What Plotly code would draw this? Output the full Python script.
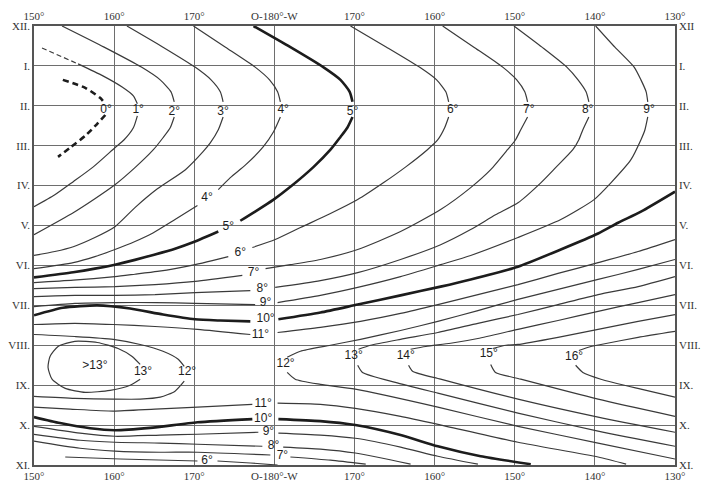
import plotly.graph_objects as go

# ---------------- axes / ticks ----------------
lon_ticks = [150, 160, 170, 180, 190, 200, 210, 220, 230]
lon_labels = ["150°", "160°", "170°", "O-180°-W", "170°", "160°", "150°", "140°", "130°"]
month_vals = list(range(12))
month_left = ["XII.", "I.", "II.", "III.", "IV.", "V.", "VI.", "VII.", "VIII.", "IX.", "X.", "XI."]
month_right = ["XII", "I.", "II.", "III.", "IV.", "V.", "VI.", "VII.", "VIII.", "IX.", "X.", "XI."]

# ---------------- isotherm segments (longitude °E-continuous, month index 0=XII) ----------------
T0_up = ([153.6, 156.4, 158.25, 158.9], [1.35, 1.55, 1.8, 1.95])
T0_lo = ([158.9, 157.9, 156.4, 154.5, 153.0], [2.23, 2.45, 2.75, 3.05, 3.28])
T1_dash = ([151.0, 155.5], [0.55, 0.95])
T1_up = ([155.5, 158.6, 161.0, 162.4, 162.9], [0.95, 1.25, 1.53, 1.75, 1.95])
T1_lo = ([162.9, 162.4, 161.25, 160.1, 157.4, 154.9, 152.6, 150], [2.25, 2.55, 2.85, 3.05, 3.53, 3.9, 4.23, 4.53])
T2_up = ([153.5, 158.75, 163.4, 165.75, 167.1, 167.5], [0, 0.53, 1.03, 1.35, 1.65, 1.9])
T2_lo = ([167.5, 167.0, 166.1, 164.9, 162.6, 160.1, 157.6, 154.9, 150], [2.28, 2.55, 2.8, 3.1, 3.55, 3.98, 4.33, 4.68, 5.23])
T3_up = ([161.6, 166.1, 170.1, 172.1, 173.25, 173.6], [0, 0.53, 1.03, 1.35, 1.65, 1.9])
T3_lo = ([173.6, 173.0, 172.0, 171.1, 168.9, 165.4, 162.6, 160.1, 157.6, 154.9, 152.6, 150],
         [2.28, 2.6, 2.93, 3.15, 3.6, 4.08, 4.55, 5.03, 5.3, 5.53, 5.65, 5.75])
T4_up = ([169.9, 173.9, 177.6, 179.4, 180.4, 180.75], [0, 0.53, 1.03, 1.35, 1.65, 1.9])
T4_lo = ([180.75, 179.9, 178.6, 176.4, 174.5, 173.0], [2.28, 2.65, 3.03, 3.48, 3.8, 4.1])
T4_left = ([170.4, 167.6, 164.9, 162.6, 160.1, 157.6, 154.9, 150], [4.5, 4.85, 5.18, 5.4, 5.6, 5.78, 5.93, 6.08])
T5_up = ([177.4, 182, 186.1, 188.25, 189.4, 189.75], [0, 0.53, 1.03, 1.35, 1.65, 1.9])
T5_lo = ([189.75, 189.1, 188.25, 187, 184.9, 182, 179.9, 177.6, 175.75], [2.28, 2.55, 2.78, 3.1, 3.53, 4.03, 4.35, 4.65, 4.88])
T5_left = ([173, 170.1, 167.6, 165.0, 162.6, 160.1, 157.6, 154.9, 150], [5.15, 5.4, 5.58, 5.73, 5.86, 5.98, 6.08, 6.17, 6.3])
T6_up = ([189.5, 194, 198.1, 200.25, 201.4, 201.75], [0, 0.53, 1.03, 1.35, 1.65, 1.9])
T6_lo = ([201.75, 201.25, 200.4, 199.1, 196.4, 193.6, 190.4, 187, 183.25, 180.1, 177.25],
         [2.28, 2.55, 2.85, 3.1, 3.53, 3.93, 4.35, 4.7, 5.05, 5.35, 5.55])
T6_left = ([174.25, 172.25, 170.1, 167.6, 165.4, 162.6, 160.1, 154.9, 150], [5.78, 5.88, 5.98, 6.08, 6.15, 6.22, 6.28, 6.37, 6.43])
T7_up = ([201, 204.9, 208.5, 210.25, 211.25, 211.6], [0, 0.53, 1.03, 1.35, 1.65, 1.9])
T7_lo = ([211.6, 210.75, 210.1, 209.1, 207, 204.5, 200.75, 195.75, 190.4, 185.75, 182, 178.9],
         [2.28, 2.6, 2.85, 3.1, 3.6, 4.05, 4.6, 5.15, 5.6, 5.85, 5.98, 6.08])
T7_left = ([176, 170.1, 165.1, 160.1, 155.1, 150], [6.25, 6.4, 6.48, 6.53, 6.55, 6.58])
T8_up = ([209.9, 213.4, 216.5, 217.9, 218.9, 219.25], [0, 0.53, 1.03, 1.35, 1.65, 1.9])
T8_lo = ([219.25, 218.5, 218, 217.25, 215.1, 213.25, 210.4, 207.6, 204.5, 200.75, 195.75, 190.4, 185.75, 180.1],
         [2.28, 2.6, 2.85, 3.1, 3.55, 3.93, 4.43, 4.73, 5.1, 5.48, 5.85, 6.18, 6.38, 6.55])
T8_left = ([177, 170.1, 165.1, 160.1, 155.1, 150], [6.63, 6.68, 6.73, 6.75, 6.75, 6.78])
T9_up = ([220.1, 222.5, 224.9, 225.75, 226.4, 226.6], [0, 0.53, 1.03, 1.35, 1.65, 1.9])
T9_lo = ([226.6, 226.25, 225.75, 224.5, 222, 219.9, 215.75, 210.4, 204.5, 200.75, 195.75, 190.4, 185.75, 180.4],
         [2.28, 2.6, 2.85, 3.35, 3.93, 4.35, 4.85, 5.3, 5.75, 5.98, 6.28, 6.55, 6.75, 6.93])
T9_left = ([177.6, 170.1, 165.1, 160.1, 155.1, 150], [6.98, 6.95, 6.93, 6.93, 6.95, 7.03])
T10_right = ([230, 225.75, 222.9, 220.4, 215.75, 210.4, 204.5, 200.75, 195.75, 190.4, 185.75, 180.5],
             [4.15, 4.65, 4.93, 5.2, 5.6, 6.03, 6.35, 6.53, 6.75, 6.98, 7.18, 7.35])
T10_left = ([177, 173.25, 170.1, 166.1, 162, 157.9, 153.6, 150], [7.4, 7.38, 7.35, 7.23, 7.08, 7.0, 7.06, 7.25])
T11_left = ([150, 155.1, 159.9, 165.1, 170.4, 177], [7.48, 7.45, 7.48, 7.53, 7.6, 7.73])
T11_right = ([180.4, 185.75, 190.75, 195.75, 200.4, 205.4, 210.4, 215.4, 220.4, 225.4, 230],
             [7.68, 7.55, 7.4, 7.2, 6.98, 6.73, 6.48, 6.2, 5.93, 5.65, 5.35])
T12_west_up = ([150, 155.1, 159.9, 163.25, 166.1, 168, 168.75], [7.73, 7.78, 7.85, 7.98, 8.15, 8.35, 8.53])
T12_west_lo = ([168.75, 167.6, 165.75, 163.25, 159.9, 155.1, 150], [8.9, 9.15, 9.3, 9.35, 9.35, 9.33, 9.28])
T13_loop = ([163.25, 162.25, 160.5, 157.9, 155.1, 153, 152, 151.75, 152.25, 153.9, 156.4, 159.5, 162, 163.25],
            [8.48, 8.28, 8.08, 7.93, 7.9, 8.03, 8.28, 8.55, 8.85, 9.08, 9.18, 9.13, 9.0, 8.85])
T12_east_up = ([181.6, 183.25, 187, 190.75, 195.75, 200.4, 205.4, 210.4, 215.4, 220.4, 225.4, 230],
               [8.3, 8.15, 8.0, 7.85, 7.63, 7.4, 7.13, 6.85, 6.6, 6.35, 6.1, 5.85])
T12_east_lo = ([181.6, 182.6, 185.75, 190.1, 200.4, 210.4, 220.4, 230], [8.68, 8.85, 8.98, 9.1, 9.55, 10.03, 10.45, 10.85])
T13_up = ([190.5, 192, 195.75, 200.4, 205.4, 210.4, 215.4, 220.4, 225.4, 230],
          [8.1, 8.0, 7.85, 7.68, 7.45, 7.23, 6.98, 6.73, 6.53, 6.28])
T13_lo = ([190.4, 191, 195.1, 200.4, 210.4, 220.4, 230], [8.5, 8.68, 8.93, 9.2, 9.7, 10.15, 10.53])
T14_up = ([197, 198.9, 202, 205.4, 210.4, 215.4, 220.4, 225.4, 230], [8.1, 8.03, 7.95, 7.83, 7.6, 7.38, 7.15, 6.93, 6.73])
T14_lo = ([196.75, 197.25, 200.75, 210.4, 220.4, 230], [8.5, 8.65, 8.85, 9.35, 9.8, 10.18])
T15_up = ([207.25, 208.9, 210.4, 215.4, 220.4, 225.4, 230], [8.08, 8.0, 7.98, 7.8, 7.6, 7.4, 7.23])
T15_lo = ([207, 207.6, 210.75, 220.4, 230], [8.48, 8.68, 8.85, 9.35, 9.78])
T16_up = ([218, 219.5, 220.75, 225.4, 230], [8.13, 8.03, 7.98, 7.8, 7.65])
T16_lo = ([217.6, 218.5, 220.75, 225.75, 230], [8.5, 8.68, 8.85, 9.1, 9.3])
T11_low_left = ([150, 154.5, 159.9, 165.1, 170.4, 177.25], [9.55, 9.6, 9.65, 9.6, 9.55, 9.48])
T11_low_right = ([180.4, 185.75, 190.1, 195.75, 200.4, 210.4, 220.4, 223.9], [9.45, 9.48, 9.58, 9.78, 9.98, 10.43, 10.8, 10.98])
T10_low_left = ([150, 153.25, 157, 160.1, 164.5, 170.4, 177.25], [9.8, 9.95, 10.08, 10.13, 10.07, 9.93, 9.85])
T10_low_right = ([180.5, 185.75, 190.1, 195.75, 200.4, 205.75, 212], [9.85, 9.9, 10.0, 10.25, 10.53, 10.78, 10.98])
T9_low_left = ([150, 155.75, 160.1, 165.75, 170.4, 178], [10.03, 10.2, 10.28, 10.25, 10.23, 10.18])
T9_low_right = ([180.5, 185.75, 190.1, 195.75, 200.4, 205.4], [10.2, 10.25, 10.33, 10.55, 10.78, 10.98])
T8_low_left = ([150, 155.75, 160.1, 165.75, 170.4, 178.5], [10.23, 10.38, 10.43, 10.45, 10.48, 10.53])
T8_low_right = ([181.1, 185.75, 190.1, 197], [10.55, 10.6, 10.7, 10.98])
T7_low_left = ([150, 155.75, 160.1, 165.75, 170.4, 179.5], [10.4, 10.58, 10.65, 10.68, 10.68, 10.75])
T7_low_right = ([182, 187, 191.4], [10.8, 10.88, 10.98])
T6_low_left = ([153.9, 160.75, 170.4], [10.8, 10.85, 10.9])
T6_low_right = ([172.9, 177, 180.4], [10.9, 10.95, 11.0])

# ---------------- contour labels ----------------
label_text = ["0°", "1°", "2°", "3°", "4°", "5°", "6°", "7°", "8°", "9°",
              "4°", "5°", "6°", "7°", "8°", "9°", "10°", "11°",
              ">13°", "13°", "12°", "12°", "13°", "14°", "15°", "16°",
              "11°", "10°", "9°", "8°", "7°", "6°"]
label_lon = [159, 163, 167.5, 173.6, 181.1, 189.75, 202.25, 211.75, 219.1, 226.75,
             171.6, 174.25, 175.75, 177.4, 178.5, 178.9, 178.9, 178.25,
             157.6, 163.6, 169.1, 181.4, 189.9, 196.4, 206.75, 217.4,
             178.6, 178.6, 179.25, 179.9, 181, 171.6]
label_month = [2.1, 2.1, 2.15, 2.15, 2.1, 2.15, 2.1, 2.1, 2.1, 2.1,
               4.3, 5.03, 5.68, 6.18, 6.6, 6.95, 7.35, 7.73,
               8.53, 8.68, 8.68, 8.48, 8.28, 8.28, 8.23, 8.3,
               9.48, 9.85, 10.18, 10.53, 10.78, 10.9]

# ---------------- styles ----------------
THIN = dict(color="#3a3a3a", width=1.2)
THICK = dict(color="#1c1c1c", width=2.6)
THICK_DASH = dict(color="#1c1c1c", width=2.6, dash="6px,4px")
THIN_DASH = dict(color="#3a3a3a", width=1.2, dash="5px,3px")

segments = [
    (T0_up, THICK_DASH), (T0_lo, THICK_DASH), (T1_dash, THIN_DASH),
    (T1_up, THIN), (T1_lo, THIN), (T2_up, THIN), (T2_lo, THIN), (T3_up, THIN), (T3_lo, THIN),
    (T4_up, THIN), (T4_lo, THIN), (T4_left, THIN),
    (T5_up, THICK), (T5_lo, THICK), (T5_left, THICK),
    (T6_up, THIN), (T6_lo, THIN), (T6_left, THIN),
    (T7_up, THIN), (T7_lo, THIN), (T7_left, THIN),
    (T8_up, THIN), (T8_lo, THIN), (T8_left, THIN),
    (T9_up, THIN), (T9_lo, THIN), (T9_left, THIN),
    (T10_right, THICK), (T10_left, THICK),
    (T11_left, THIN), (T11_right, THIN),
    (T12_west_up, THIN), (T12_west_lo, THIN), (T13_loop, THIN),
    (T12_east_up, THIN), (T12_east_lo, THIN), (T13_up, THIN), (T13_lo, THIN),
    (T14_up, THIN), (T14_lo, THIN), (T15_up, THIN), (T15_lo, THIN), (T16_up, THIN), (T16_lo, THIN),
    (T11_low_left, THIN), (T11_low_right, THIN),
    (T10_low_left, THICK), (T10_low_right, THICK),
    (T9_low_left, THIN), (T9_low_right, THIN), (T8_low_left, THIN), (T8_low_right, THIN),
    (T7_low_left, THIN), (T7_low_right, THIN), (T6_low_left, THIN), (T6_low_right, THIN),
]

fig = go.Figure()
for (xs, ys), style in segments:
    fig.add_trace(go.Scatter(x=xs, y=ys, mode="lines", line=dict(shape="spline", smoothing=0.6, **style),
                             hoverinfo="skip", showlegend=False))

fig.add_trace(go.Scatter(x=label_lon, y=label_month, mode="text", text=label_text,
                         textfont=dict(family="Liberation Sans", size=12, color="#1e1e1e"),
                         hoverinfo="skip", showlegend=False))

# helper trace for the secondary (top / right) axes
fig.add_trace(go.Scatter(x=[150], y=[0], xaxis="x2", yaxis="y2", mode="markers",
                         marker=dict(opacity=0), hoverinfo="skip", showlegend=False))

tickfont = dict(family="Liberation Serif", size=11, color="#333")
common_x = dict(range=[150, 230], tickvals=lon_ticks, ticktext=lon_labels, ticks="",
                zeroline=False, showline=True, linecolor="#555", linewidth=1.5, mirror=True,
                tickfont=tickfont, automargin=False, fixedrange=True)
common_y = dict(range=[11, 0], tickvals=month_vals, ticks="", zeroline=False, showline=True,
                linecolor="#555", linewidth=1.5, mirror=True, tickfont=tickfont,
                automargin=False, fixedrange=True)

# the page body adds an 8px offset, so the figure is sized to fit inside the 710x482 window
fig.update_layout(
    width=702, height=474,
    margin=dict(l=26, r=35, t=18, b=17),
    paper_bgcolor="white", plot_bgcolor="white",
    showlegend=False,
    xaxis=dict(**common_x, showgrid=True, gridcolor="#6e6e6e", gridwidth=1),
    xaxis2=dict(**common_x, overlaying="x", side="top", showgrid=False, anchor="y"),
    yaxis=dict(**common_y, ticktext=month_left, showgrid=True, gridcolor="#6e6e6e", gridwidth=1),
    yaxis2=dict(**common_y, ticktext=month_right, overlaying="y", side="right", showgrid=False, anchor="x"),
)

fig.write_html("out.html")
